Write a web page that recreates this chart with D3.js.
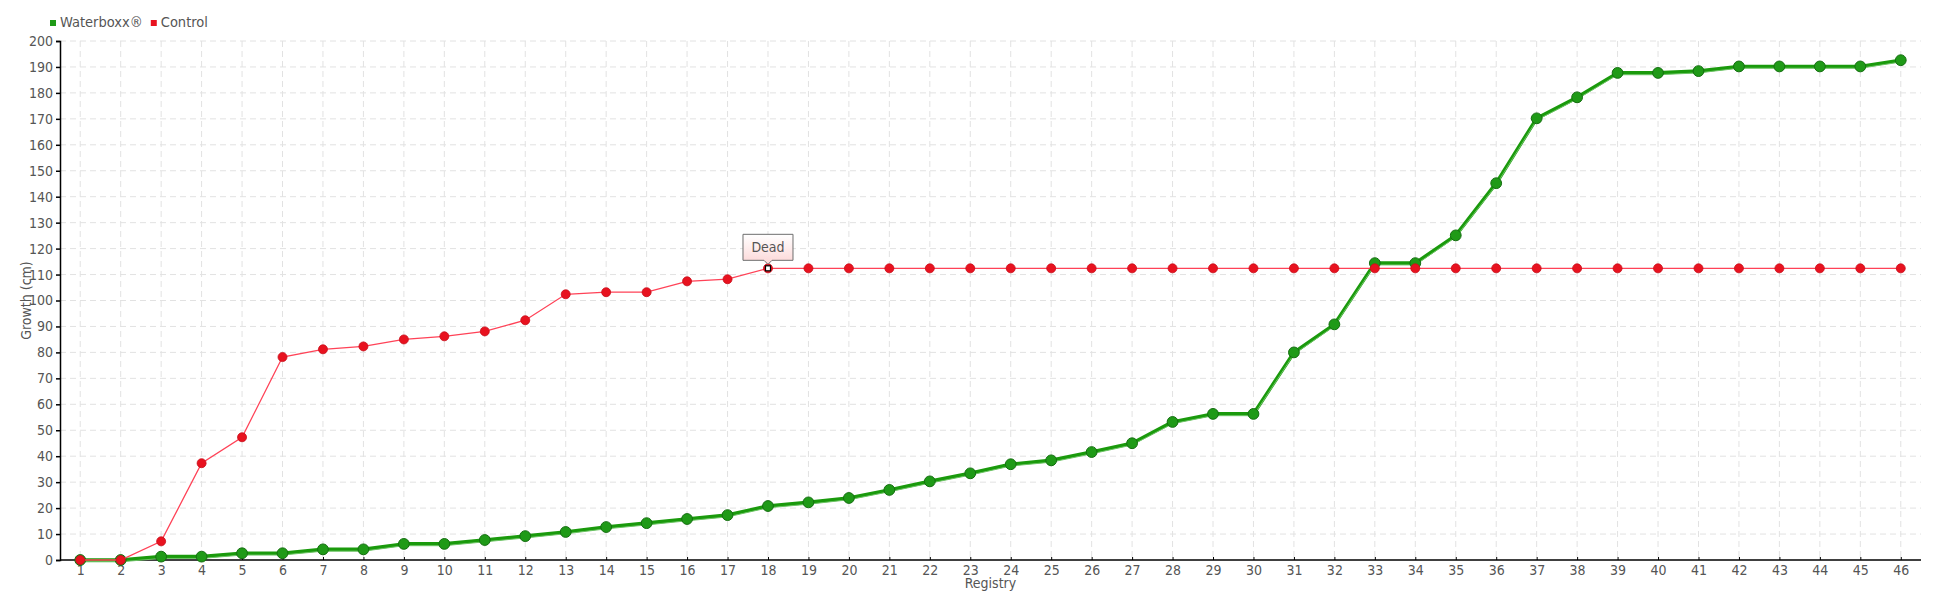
<!DOCTYPE html>
<html>
<head>
<meta charset="utf-8">
<script src="https://cdn.jsdelivr.net/npm/d3@7"></script>
<style>
  html, body { margin: 0; padding: 0; background: #fff; }
  svg text { font-family: "DejaVu Sans Condensed", "DejaVu Sans", sans-serif; font-stretch: condensed; fill: #555; }
</style>
</head>
<body>
<svg id="chart" width="1940" height="600"></svg>
<script>
const categories = d3.range(1, 47).map(String);
const waterboxx = [0, 0, 1.3, 1.3, 2.6, 2.6, 4.1, 4.1, 6.2, 6.2,
  7.7, 9.2, 10.8, 12.7, 14.2, 15.8, 17.3, 20.8, 22.2, 23.9,
  27.0, 30.3, 33.4, 36.9, 38.4, 41.6, 45.0, 53.2, 56.3, 56.3,
  80.0, 90.8, 114.4, 114.4, 125.1, 145.2, 170.2, 178.3, 187.7, 187.7,
  188.4, 190.2, 190.2, 190.2, 190.2, 192.6];
const control = [0, 0, 7.2, 37.3, 47.3, 78.2, 81.2, 82.3, 85.0, 86.2,
  88.1, 92.4, 102.4, 103.2, 103.2, 107.4, 108.2, 112.4, 112.4, 112.4,
  112.4, 112.4, 112.4, 112.4, 112.4, 112.4, 112.4, 112.4, 112.4, 112.4,
  112.4, 112.4, 112.4, 112.4, 112.4, 112.4, 112.4, 112.4, 112.4, 112.4,
  112.4, 112.4, 112.4, 112.4, 112.4, 112.4];
const yTicks = d3.range(0, 201, 10);
const seriesNames = ["Waterboxx®", "Control"];
const annotation = { index: 17, label: "Dead" };

(function () {
const svg = d3.select("#chart");
const mLeft = 60, mRight = 1921, mTop = 41, mBottom = 560;

const x = d3.scalePoint().domain(categories).range([mLeft, mRight]).padding(0.5);
const y = d3.scaleLinear().domain([0, 200]).range([mBottom, mTop]);

// gridlines
const grid = svg.append("g");
grid.selectAll("line.h").data(yTicks.filter(d => d > 0)).enter().append("line")
  .attr("x1", mLeft).attr("x2", mRight)
  .attr("y1", d => y(d)).attr("y2", d => y(d))
  .attr("stroke", "#e2e2e2").attr("stroke-width", 1).attr("stroke-dasharray", "6,4");
grid.selectAll("line.v").data(categories).enter().append("line")
  .attr("x1", d => x(d)).attr("x2", d => x(d))
  .attr("y1", mTop).attr("y2", mBottom)
  .attr("stroke", "#e2e2e2").attr("stroke-width", 1).attr("stroke-dasharray", "6,4");

// axes
const yAxis = d3.axisLeft(y).tickValues(yTicks).tickSize(4).tickPadding(3);
const gy = svg.append("g").attr("transform", `translate(${mLeft},0)`).call(yAxis);
gy.select(".domain").attr("stroke", "#000").attr("stroke-width", 1.5);
gy.selectAll(".tick line").attr("stroke", "#000").attr("stroke-width", 1.5);
gy.selectAll(".tick text").attr("font-size", 14).style("fill", "#555");

const xAxis = d3.axisBottom(x).tickSizeInner(-3).tickSizeOuter(0).tickPadding(5);
const gx = svg.append("g").attr("transform", `translate(0,${mBottom})`).call(xAxis);
gx.select(".domain").attr("stroke", "#000").attr("stroke-width", 1.5)
  .attr("d", `M${mLeft},0H${mRight}`);
gx.selectAll(".tick line").attr("stroke", "#000").attr("stroke-width", 1);
gx.selectAll(".tick text").attr("font-size", 14).style("fill", "#555");
svg.selectAll("g").attr("font-family", null);

// axis titles
svg.append("text").attr("x", (mLeft + mRight) / 2).attr("y", 588)
  .attr("text-anchor", "middle").attr("font-size", 14).text("Registry");
svg.append("text").attr("transform", `translate(31,${(mTop + mBottom) / 2}) rotate(-90)`)
  .attr("text-anchor", "middle").attr("font-size", 14).text("Growth (cm)");

// lines
const line = d3.line().x((d, i) => x(categories[i])).y(d => y(d));
svg.append("path").datum(waterboxx).attr("d", line)
  .attr("fill", "none").attr("stroke", "#1a9a0c").attr("stroke-width", 3.6)
  .attr("stroke-linejoin", "round");
svg.append("path").datum(waterboxx).attr("d", line)
  .attr("transform", "translate(0,1.8)")
  .attr("fill", "none").attr("stroke", "#6cc464").attr("stroke-width", 1);

svg.append("g").selectAll("circle").data(waterboxx).enter().append("circle")
  .attr("cx", (d, i) => x(categories[i])).attr("cy", d => y(d)).attr("r", 5.4)
  .attr("fill", "#1f9a17").attr("stroke", "#146e10").attr("stroke-width", 1);

svg.append("path").datum(control).attr("d", line)
  .attr("fill", "none").attr("stroke", "#ff4257").attr("stroke-width", 1.3);
svg.append("g").selectAll("circle").data(control).enter().append("circle")
  .attr("cx", (d, i) => x(categories[i])).attr("cy", d => y(d)).attr("r", 4.5)
  .attr("fill", "#e8121f").attr("stroke", "#c80e1a").attr("stroke-width", 0.8);

// annotation
const ax = x(categories[annotation.index]), ay = y(control[annotation.index]);
svg.append("rect").attr("x", ax - 2.5).attr("y", ay - 2.5).attr("width", 5).attr("height", 5)
  .attr("fill", "#fff").attr("stroke", "#000").attr("stroke-width", 1.2);
const defs = svg.append("defs");
const grad = defs.append("linearGradient").attr("id", "tipgrad").attr("x1", 0).attr("y1", 0).attr("x2", 0).attr("y2", 1);
grad.append("stop").attr("offset", "0%").attr("stop-color", "#ffffff");
grad.append("stop").attr("offset", "100%").attr("stop-color", "#fcd6d6");
const bw = 50, bh = 26, by = ay - 34;
svg.append("path")
  .attr("d", `M${ax - bw / 2},${by} H${ax + bw / 2} V${by + bh} H${ax + 4} L${ax},${by + bh + 4} L${ax - 4},${by + bh} H${ax - bw / 2} Z`)
  .attr("fill", "url(#tipgrad)").attr("stroke", "#6e6e6e").attr("stroke-width", 1);
svg.append("text").attr("x", ax).attr("y", by + 18).attr("text-anchor", "middle")
  .attr("font-size", 14).text(annotation.label);

// legend
const legend = svg.append("g");
const colors = ["#1f9a17", "#e8121f"];
let lx = 50;
seriesNames.forEach((name, i) => {
  legend.append("rect").attr("x", lx).attr("y", 20).attr("width", 6).attr("height", 6).attr("fill", colors[i]);
  const t = legend.append("text").attr("x", lx + 10).attr("y", 27).attr("font-size", 14.5).text(name);
  const w = t.node().getComputedTextLength();
  lx = Math.max(lx + 90, lx + 10 + w + 8);
});
})();
</script>
</body>
</html>
